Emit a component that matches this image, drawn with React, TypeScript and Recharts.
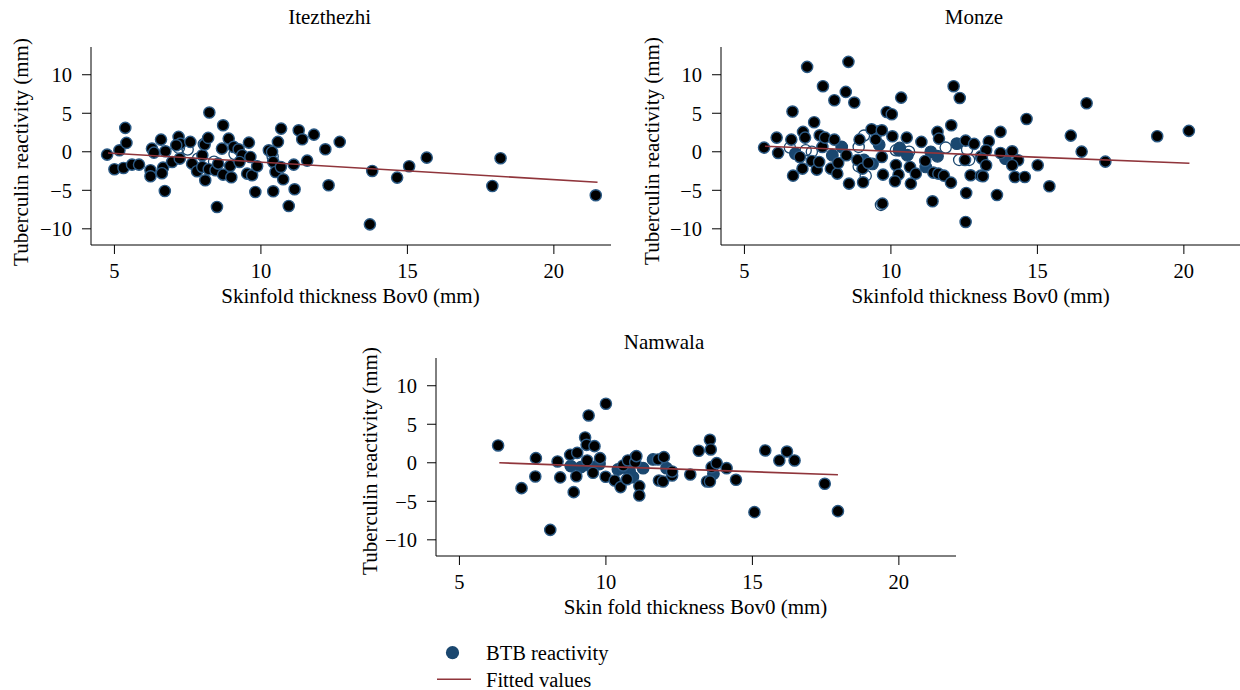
import React from 'react';
import { ScatterChart, Scatter, XAxis, YAxis } from 'recharts';

const FONT = '"Liberation Serif", "Times New Roman", serif';
const NAVY = '#1a476f';
const RING = '#2b5a85';
const MAROON = '#90353b';

const xTicks = [5, 10, 15, 20];
const yTicks = [-10, -5, 0, 5, 10];
const xDomain = [4.2, 21.95];
const yDomain = [-12.1, 13.6];

const panelTitles = ['Itezthezhi', 'Monze', 'Namwala'];
const xLabels = ['Skinfold thickness Bov0 (mm)', 'Skinfold thickness Bov0 (mm)', 'Skin fold thickness Bov0 (mm)'];
const yLabel = 'Tuberculin reactivity (mm)';
const legendLabels = ['BTB reactivity', 'Fitted values'];

// Itezthezhi
const itezBlack = [
  [4.75, -0.37], [5.17, 0.19], [5.37, 3.1], [5.41, 1.15], [5.0, -2.27], [5.31, -2.1], [5.6, -1.67], [5.84, -1.67],
  [6.23, -2.4], [6.23, -3.18], [6.28, 0.41], [6.35, -0.11], [6.59, 1.58], [6.74, 0.06], [6.72, -5.09], [6.66, -2.06],
  [6.62, -2.79], [6.97, -1.32], [7.19, 1.93], [7.25, 1.06], [7.11, 0.84], [7.23, -0.89], [7.59, 1.28], [7.65, -1.54],
  [7.82, -2.53], [8.0, -0.45], [8.08, 0.93], [8.2, 1.8], [8.24, 5.09], [8.1, -3.7], [8.0, -1.97], [8.22, -2.27],
  [8.45, -2.4], [8.5, -7.16], [8.54, -1.54], [8.71, 3.44], [8.67, 0.41], [8.71, -2.97], [8.9, 1.71], [8.95, -1.84],
  [8.99, -3.31], [9.07, 0.63], [9.24, 0.32], [9.36, -0.45], [9.27, -1.32], [9.59, 1.19], [9.64, -0.67], [9.53, -2.84],
  [9.7, -3.05], [9.87, -1.88], [9.81, -5.22], [10.27, 0.19], [10.38, -0.02], [10.42, -1.32], [10.58, 1.28], [10.69, 3.01],
  [10.5, -2.62], [10.42, -5.13], [10.76, -3.57], [10.68, -1.97], [11.12, -1.67], [11.15, -4.87], [10.95, -7.03],
  [11.29, 2.79], [11.41, 1.62], [11.58, -1.15], [11.81, 2.23], [12.2, 0.32], [12.31, -4.35], [12.69, 1.28],
  [13.8, -2.49], [13.72, -9.42], [14.65, -3.35], [15.06, -1.88], [15.66, -0.76], [18.18, -0.84], [17.9, -4.44], [21.43, -5.65],
];
const itezHollow = [[7.2, 0.5], [7.85, -0.9], [8.05, 1.0], [9.1, -0.3], [8.4, -1.3], [7.5, 0.3], [10.4, -0.6]];
const itezBlue: number[][] = [];
const itezFit = [[4.78, -0.15], [21.49, -3.96]];

// Monze
const monzeBlack = [
  [5.67, 0.54], [6.1, 1.84], [6.15, -0.15], [6.64, 5.22], [6.6, 1.58], [6.66, -3.1], [6.89, -0.67], [6.98, -2.19],
  [7.0, 2.58], [7.07, 1.84], [7.14, 11.02], [7.3, -1.19], [7.47, -2.32], [7.55, -1.32], [7.38, 3.83], [7.57, 2.14],
  [7.66, 0.63], [7.75, 1.84], [7.68, 8.51], [7.95, -2.19], [8.07, 6.69], [8.07, 1.58], [8.17, -2.84], [8.2, -1.45],
  [8.46, 7.77], [8.55, 11.67], [8.48, -0.45], [8.57, -4.13], [8.75, 6.39], [8.86, -1.06], [8.93, 1.58], [9.03, -2.19],
  [9.05, -3.96], [9.23, -1.45], [9.34, 2.92], [9.48, 1.58], [9.69, 2.79], [9.69, -0.67], [9.86, 5.17], [10.03, 4.87],
  [9.73, -2.97], [9.71, -6.73], [10.05, 2.01], [10.17, -1.71], [10.26, -2.97], [10.14, -3.83], [10.35, 7.03],
  [10.54, 1.84], [10.68, -4.13], [10.65, -1.97], [10.85, -2.84], [11.04, 1.28], [11.17, -1.19], [11.42, -6.43],
  [11.45, -2.71], [11.59, 2.58], [11.64, 1.71], [11.62, -2.84], [11.81, -3.1], [12.05, -4.0], [12.06, 3.44],
  [12.14, 8.51], [12.35, 6.99], [12.55, 1.45], [12.84, 1.02], [12.53, -1.06], [12.57, -5.35], [12.55, -9.11],
  [12.72, -3.05], [13.07, -0.6], [13.07, -3.1], [13.34, 1.35], [13.25, 0.19], [13.11, -0.89], [13.25, -1.75],
  [13.14, -3.18], [13.74, 2.58], [13.74, -0.15], [14.14, 0.06], [14.34, -1.1], [14.14, -1.75], [14.23, -3.27],
  [14.57, -3.27], [13.62, -5.61], [14.63, 4.26], [15.01, -1.75], [15.41, -4.48], [16.14, 2.1], [16.51, 0.02],
  [16.68, 6.3], [17.32, -1.28], [19.09, 2.02], [20.17, 2.71],
];
const monzeBlue = [
  [6.74, -0.24], [8.0, -0.45], [8.32, 0.63], [9.08, -1.06], [9.37, -1.58], [9.54, 2.6], [10.28, 0.19], [10.56, -0.45],
  [11.36, 0.0], [11.59, -0.58], [11.19, -1.97], [12.25, 1.06], [13.91, -0.89], [9.6, 0.9], [10.3, 0.5],
];
const monzeHollow = [
  [6.55, 0.54], [7.09, 0.19], [8.9, 0.63], [9.08, 2.1], [9.14, -3.1], [10.17, 0.19], [10.62, 0.0], [11.87, 0.54],
  [12.33, -1.06], [12.67, -1.06], [9.66, -6.9], [8.9, -1.9], [7.3, 0.0], [12.6, 0.3],
];
const monzeFit = [[5.7, 0.71], [20.19, -1.49]];

// Namwala
const namwalaBlack = [
  [6.32, 2.25], [7.12, -3.29], [7.61, 0.6], [7.59, -1.78], [8.1, -8.71], [8.35, 0.17], [8.44, -1.9], [8.78, 1.03],
  [8.9, -3.81], [9.02, 1.29], [8.99, -1.75], [9.29, 3.29], [9.41, 6.14], [9.34, 2.33], [9.61, 2.16], [9.36, 0.3],
  [9.8, 0.6], [9.56, -1.3], [10.0, 7.66], [9.99, -1.82], [10.3, -2.3], [10.5, -3.16], [10.72, -2.13], [10.59, -0.35],
  [10.75, 0.3], [11.0, 0.08], [11.04, 0.86], [11.14, -3.03], [11.14, -4.25], [11.78, 0.43], [11.98, 0.73],
  [11.81, -2.3], [11.95, -2.43], [12.26, -1.65], [12.26, -1.13], [12.88, -1.52], [13.17, 1.56], [13.55, 2.98],
  [13.58, 1.73], [13.61, -0.57], [13.45, -2.43], [13.55, -2.43], [13.78, -0.05], [14.12, -0.7], [14.44, -2.21],
  [15.44, 1.6], [15.92, 0.3], [16.18, 1.46], [16.44, 0.3], [15.07, -6.41], [17.47, -2.73], [17.92, -6.28],
];
const namwalaBlue = [
  [8.8, -0.43], [9.15, -0.56], [9.5, -0.56], [9.78, -0.17], [10.41, -0.87], [10.81, -1.13], [10.92, -1.86],
  [11.0, 0.69], [11.27, -0.7], [11.61, 0.43], [12.07, -0.7], [13.67, -1.43], [10.6, -0.6],
];
const namwalaHollow: number[][] = [];
const namwalaFit = [[6.36, 0.0], [17.92, -1.56]];

const toXY = (arr: number[][]) => arr.map(([x, y]) => ({ x, y }));

const PLOT_W = 520;
const PLOT_H = 198;
const YW = 90;
const XH = 40;
const MT = 10;
const MR = 10;

const blackShape = (p: any) => (
  <circle cx={p.cx} cy={p.cy} r={5.6} fill="#000" stroke={RING} strokeWidth={1.4} />
);
const blueShape = (p: any) => (
  <circle cx={p.cx} cy={p.cy} r={5.8} fill={NAVY} stroke={NAVY} strokeWidth={1.2} />
);
const hollowShape = (p: any) => (
  <circle cx={p.cx} cy={p.cy} r={5.6} fill="none" stroke={NAVY} strokeWidth={1.3} />
);
const noShape = () => <g />;

const fmtY = (v: number) => (v < 0 ? '\u2212' + Math.abs(v) : String(v));

type PanelProps = {
  left: number;
  top: number;
  black: number[][];
  blue: number[][];
  hollow: number[][];
  fit: number[][];
};

function Panel({ left, top, black, blue, hollow, fit }: PanelProps) {
  const tickStyle = { fill: '#000', fontSize: 20.5, fontFamily: FONT };
  return (
    <div style={{ position: 'absolute', left: left - YW, top: top - MT }}>
      <ScatterChart
        width={YW + PLOT_W + MR}
        height={MT + PLOT_H + XH}
        margin={{ top: MT, right: MR, bottom: 0, left: 0 }}
      >
        <XAxis
          type="number"
          dataKey="x"
          domain={xDomain}
          ticks={xTicks}
          allowDataOverflow
          interval={0}
          height={XH}
          tickSize={9}
          tickMargin={9}
          axisLine={{ stroke: '#000', strokeWidth: 1 }}
          tickLine={{ stroke: '#000', strokeWidth: 1 }}
          tick={tickStyle}
        />
        <YAxis
          type="number"
          dataKey="y"
          domain={yDomain}
          ticks={yTicks}
          allowDataOverflow
          interval={0}
          width={YW}
          tickSize={9}
          tickMargin={10}
          tickFormatter={fmtY}
          axisLine={{ stroke: '#000', strokeWidth: 1 }}
          tickLine={{ stroke: '#000', strokeWidth: 1 }}
          tick={tickStyle}
        />
        <Scatter data={toXY(hollow)} shape={hollowShape} isAnimationActive={false} />
        <Scatter data={toXY(blue)} shape={blueShape} isAnimationActive={false} />
        <Scatter data={toXY(black)} shape={blackShape} isAnimationActive={false} />
        <Scatter
          data={toXY(fit)}
          shape={noShape}
          fill={MAROON}
          line={{ stroke: MAROON, strokeWidth: 1.6 }}
          lineType="joint"
          isAnimationActive={false}
        />
      </ScatterChart>
    </div>
  );
}

function Txt({ x, baseline, text, size = 21, align = 'center' }: { x: number; baseline: number; text: string; size?: number; align?: 'center' | 'left' }) {
  return (
    <div
      style={{
        position: 'absolute',
        left: x,
        top: baseline - 0.8375 * size,
        fontFamily: FONT,
        fontSize: size,
        lineHeight: `${size}px`,
        whiteSpace: 'nowrap',
        color: '#000',
        transform: align === 'center' ? 'translateX(-50%)' : undefined,
      }}
    >
      {text}
    </div>
  );
}

function VTxt({ baselineX, cy, text, size = 21 }: { baselineX: number; cy: number; text: string; size?: number }) {
  return (
    <div
      style={{
        position: 'absolute',
        left: baselineX - 0.3375 * size,
        top: cy,
        fontFamily: FONT,
        fontSize: size,
        lineHeight: `${size}px`,
        whiteSpace: 'nowrap',
        color: '#000',
        transform: 'translate(-50%, -50%) rotate(-90deg)',
      }}
    >
      {text}
    </div>
  );
}

export default function App() {
  return (
    <div
      style={{
        position: 'absolute',
        left: 0,
        top: 0,
        width: 1240,
        height: 690,
        overflow: 'hidden',
        background: '#fff',
      }}
    >
      <Panel left={90.7} top={46.8} black={itezBlack} blue={itezBlue} hollow={itezHollow} fit={itezFit} />
      <Panel left={720.6} top={46.8} black={monzeBlack} blue={monzeBlue} hollow={monzeHollow} fit={monzeFit} />
      <Panel left={435.5} top={357.6} black={namwalaBlack} blue={namwalaBlue} hollow={namwalaHollow} fit={namwalaFit} />

      <Txt x={329.6} baseline={25} text={panelTitles[0]} />
      <Txt x={974} baseline={25} text={panelTitles[1]} />
      <Txt x={664} baseline={349.3} text={panelTitles[2]} />

      <Txt x={350.5} baseline={304} text={xLabels[0]} />
      <Txt x={980.6} baseline={304} text={xLabels[1]} />
      <Txt x={695.5} baseline={615} text={xLabels[2]} />

      <VTxt baselineX={28.5} cy={152} text={yLabel} />
      <VTxt baselineX={659} cy={151} text={yLabel} />
      <VTxt baselineX={377} cy={461} text={yLabel} />

      <svg style={{ position: 'absolute', left: 0, top: 0 }} width={1240} height={690}>
        <circle cx={452.5} cy={652.7} r={6.6} fill={NAVY} />
        <line x1={437} y1={679.3} x2={471} y2={679.3} stroke={MAROON} strokeWidth={1.5} />
      </svg>
      <Txt x={486} baseline={660} text={legendLabels[0]} size={20.5} align="left" />
      <Txt x={486} baseline={687} text={legendLabels[1]} size={20.5} align="left" />
    </div>
  );
}
